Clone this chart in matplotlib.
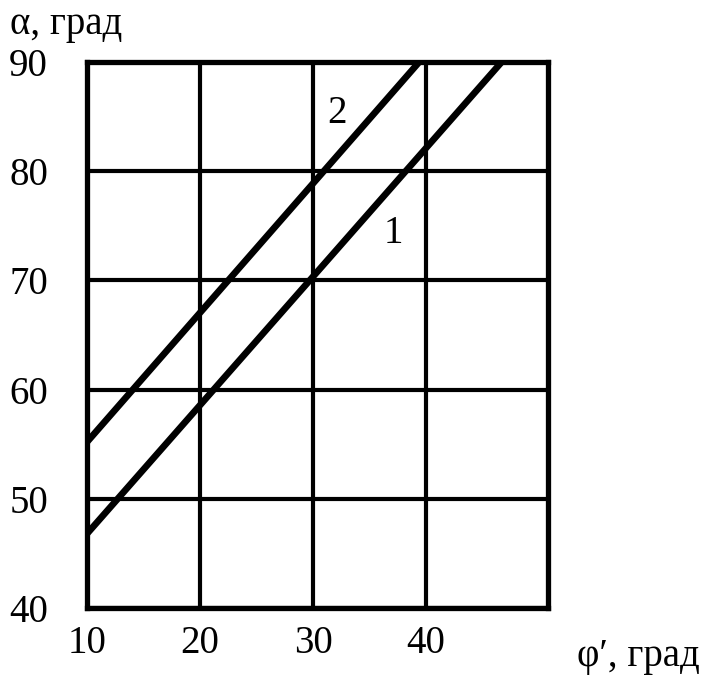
import numpy as np
import matplotlib
matplotlib.use('Agg')
import matplotlib.pyplot as plt

plt.rcParams['font.family'] = ['Liberation Serif', 'DejaVu Serif']

# curve 1 and curve 2 (alpha vs phi')
phi1 = np.array([10, 46.7])
alpha1 = np.array([46.8, 90])
phi2 = np.array([10, 39.4])
alpha2 = np.array([55.2, 90])

xticks = [10, 20, 30, 40]
yticks = [40, 50, 60, 70, 80, 90]

fig = plt.figure(figsize=(7.05, 6.8), dpi=100)
ax = fig.add_axes([87 / 705, 1 - 608 / 680, (548 - 87) / 705, (608 - 62) / 680])

ax.plot(phi1, alpha1, color='black', linewidth=4.8, solid_capstyle='butt')
ax.plot(phi2, alpha2, color='black', linewidth=4.8, solid_capstyle='butt')

ax.set_xlim(10, 50.8)
ax.set_ylim(40, 90)
ax.set_xticks(xticks)
ax.set_yticks(yticks)
ax.grid(True, color='black', linewidth=3)
ax.tick_params(length=0, labelsize=28)
ax.tick_params(axis='x', pad=12)
ax.tick_params(axis='y', pad=28)
for s in ax.spines.values():
    s.set_linewidth(3.8)

ax.text(32.1, 85.3, '2', fontsize=28, ha='center', va='center')
ax.text(37.1, 74.3, '1', fontsize=28, ha='center', va='center')

fig.text(10 / 705, 1 - 6 / 680, 'α, град', fontsize=28, ha='left', va='top')
fig.text(700 / 705, 1 - 666 / 680, 'φ′, град', fontsize=28, ha='right', va='baseline')

fig.savefig('out.png', dpi=100)
